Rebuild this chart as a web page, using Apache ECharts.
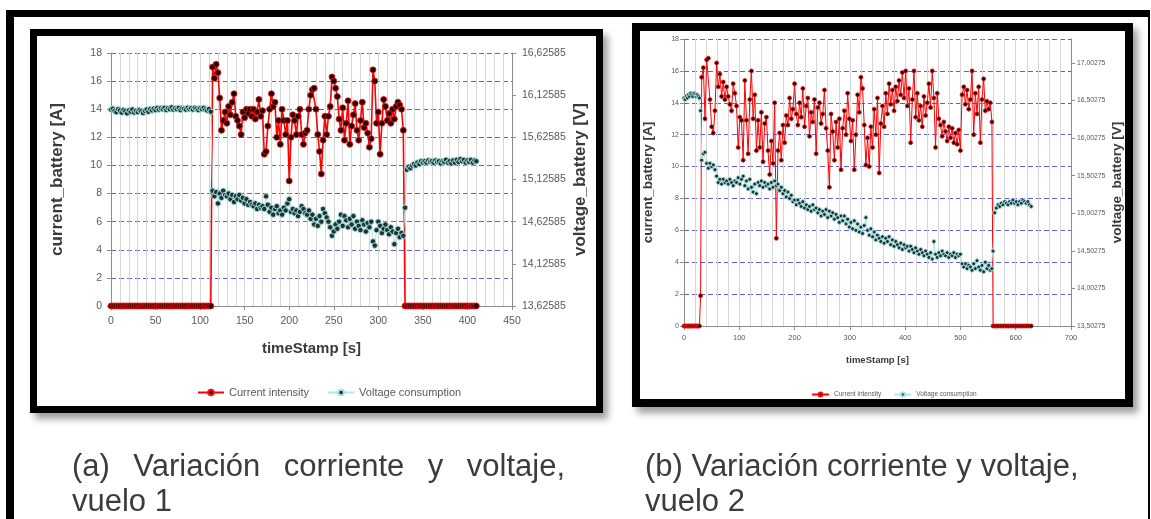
<!DOCTYPE html>
<html>
<head>
<meta charset="utf-8">
<script src="https://cdn.jsdelivr.net/npm/echarts@6/dist/echarts.min.js"></script>
<style>
html,body{margin:0;padding:0;background:#fff;}
#wrap{position:relative;width:1151px;height:519px;overflow:hidden;background:#fff;}
.outer{position:absolute;left:6px;top:10px;width:1134px;height:560px;border-left:8px solid #000;border-top:7px solid #000;border-right:2px solid #000;box-sizing:content-box;}
.frame{position:absolute;background:#fff;border:7px solid #000;box-shadow:5px 6px 7px rgba(0,0,0,0.38);}
#f1{left:30px;top:29px;width:559px;height:370px;}
#f2{left:632px;top:23px;width:485px;height:368px;border-width:8px;}
#chart{position:absolute;left:0;top:0;width:1151px;height:519px;}
.cap{position:absolute;font-family:'Liberation Sans',Arial,sans-serif;font-size:31px;line-height:31px;color:#3c3c3c;white-space:nowrap;}
.just{text-align:justify;text-align-last:justify;white-space:normal;}
</style>
</head>
<body>
<div id="wrap">
  <div class="outer"></div>
  <div class="frame" id="f1"></div>
  <div class="frame" id="f2"></div>
  <div id="chart"></div>
  <div class="cap just" style="left:72px;top:450px;width:493px;">(a) Variación corriente y voltaje,</div>
  <div class="cap" style="left:72px;top:485px;">vuelo 1</div>
  <div class="cap" style="left:645px;top:450px;">(b) Variación corriente y voltaje,</div>
  <div class="cap" style="left:645px;top:485px;">vuelo 2</div>
</div>
<script>
// ===================== (a) vuelo 1 =====================
const time1 = [
0,2,4,6,8,10,12,14,16,18,
20,22,24,26,28,30,32,34,36,38,
40,42,44,46,48,50,52,54,56,58,
60,62,64,66,68,70,72,74,76,78,
80,82,84,86,88,90,92,94,96,98,
100,102,104,106,108,110,112,
114,116,118,120,122,124,126,128,130,132,
134,136,138,140,142,144,146,148,150,152,
154,156,158,160,162,164,166,168,170,172,
174,176,178,180,182,184,186,188,190,192,
194,196,198,200,202,204,206,208,210,212,
214,216,218,220,222,224,226,228,230,232,
234,236,238,240,242,244,246,248,250,252,
254,256,258,260,262,264,266,268,270,272,
274,276,278,280,282,284,286,288,290,292,
294,296,298,300,302,304,306,308,310,312,
314,316,318,320,322,324,326,328,
330,332,334,336,338,340,342,344,346,348,
350,352,354,356,358,360,362,364,366,368,
370,372,374,376,378,380,382,384,386,388,
390,392,394,396,398,400,402,404,406,408,
410
];
const current1 = [
0,0,0,0,0,0,0,0,0,0,
0,0,0,0,0,0,0,0,0,0,
0,0,0,0,0,0,0,0,0,0,
0,0,0,0,0,0,0,0,0,0,
0,0,0,0,0,0,0,0,0,0,
0,0,0,0,0,0,0,
17.0,16.2,17.2,16.6,14.8,12.5,13.2,13.8,13.0,14.2,
13.6,14.5,15.1,13.5,13.2,12.8,12.2,13.8,13.4,14.0,
13.7,14.0,13.5,14.0,13.3,13.8,14.7,13.5,13.9,10.8,
11.0,12.8,14.0,15.1,14.2,14.5,12.0,13.2,11.5,14.0,
13.2,12.2,13.2,8.9,12.0,13.6,13.2,12.2,13.5,14.0,
12.2,11.5,12.3,12.5,14.0,15.0,15.4,15.5,14.0,12.2,
11.0,9.4,11.8,13.5,12.2,13.5,14.2,16.3,16.0,15.5,
14.9,13.3,12.5,14.1,11.8,13.0,14.6,11.5,12.8,13.6,
14.4,12.5,11.8,13.2,14.5,12.7,13.0,12.3,11.3,11.9,
16.8,16.0,13.0,13.8,10.8,13.0,14.7,14.2,13.2,13.7,
13.0,14.0,13.3,14.2,14.5,14.3,14.0,12.5,
0,0,0,0,0,0,0,0,0,0,
0,0,0,0,0,0,0,0,0,0,
0,0,0,0,0,0,0,0,0,0,
0,0,0,0,0,0,0,0,0,0,
0
];
const voltage1 = [
15.955,15.965,15.94,15.925,15.96,15.945,15.92,15.95,15.935,15.91,
15.945,15.93,15.955,15.92,15.94,15.925,15.95,15.935,15.915,15.94,
15.955,15.93,15.96,15.945,15.965,15.95,15.975,15.955,15.97,15.96,
15.975,15.95,15.97,15.96,15.98,15.955,15.97,15.96,15.975,15.95,
15.97,15.965,15.955,15.975,15.96,15.97,15.955,15.975,15.965,15.95,
15.97,15.96,15.975,15.955,15.945,15.96,15.93,
14.992,14.926,14.976,14.842,14.959,14.909,14.992,14.942,14.926,14.959,
14.892,14.942,14.859,14.926,14.892,14.942,14.876,14.909,14.842,14.892,
14.826,14.859,14.826,14.809,14.842,14.776,14.826,14.792,14.809,14.776,
14.926,14.826,14.742,14.792,14.709,14.776,14.809,14.726,14.759,14.709,
14.792,14.759,14.842,14.892,14.742,14.776,14.726,14.759,14.692,14.742,
14.809,14.776,14.726,14.709,14.759,14.659,14.709,14.592,14.659,14.576,
14.692,14.626,14.776,14.726,14.676,14.626,14.559,14.459,14.509,14.592,
14.542,14.626,14.709,14.576,14.692,14.642,14.559,14.659,14.592,14.692,
14.542,14.626,14.576,14.526,14.642,14.592,14.509,14.609,14.559,14.626,
14.392,14.342,14.526,14.626,14.576,14.492,14.542,14.592,14.526,14.476,
14.559,14.509,14.359,14.492,14.542,14.442,14.492,14.459,
14.792,15.242,15.276,15.259,15.292,15.309,15.292,15.326,15.309,15.342,
15.326,15.342,15.326,15.351,15.334,15.342,15.326,15.351,15.334,15.342,
15.317,15.342,15.334,15.359,15.326,15.342,15.317,15.351,15.326,15.359,
15.334,15.367,15.342,15.359,15.326,15.351,15.334,15.359,15.326,15.351,
15.342
];
const rightTicks1 = [13.62585,14.12585,14.62585,15.12585,15.62585,16.12585,16.62585];

// ===================== (b) vuelo 2 =====================
const time2 = [
0,2,4,6,8,10,12,14,16,18,
20,22,24,26,28,30,
32,35,38,41,44,47,50,53,56,59,
62,65,68,71,74,77,80,83,86,89,
92,95,98,101,104,107,110,113,116,119,
122,125,128,131,134,137,140,143,146,149,
152,155,158,161,164,167,170,173,176,179,
182,185,188,191,194,197,200,203,206,209,
212,215,218,221,224,227,230,233,236,239,
242,245,248,251,254,257,260,263,266,269,
272,275,278,281,284,287,290,293,296,299,
302,305,308,311,314,317,320,323,326,329,
332,335,338,341,344,347,350,353,356,359,
362,365,368,371,374,377,380,383,386,389,
392,395,398,401,404,407,410,413,416,419,
422,425,428,431,434,437,440,443,446,449,
452,455,458,461,464,467,470,473,476,479,
482,485,488,491,494,497,500,503,506,509,
512,515,518,521,524,527,530,533,536,539,
542,545,548,551,554,557,
559,562,565,568,571,574,577,580,583,586,
589,592,595,598,601,604,607,610,613,616,
619,622,625,628
];
const current2 = [
0,0,0,0,0,0,0,0,0,0,
0,0,0,0,0,1.9,
15.6,16.2,13.0,16.7,16.8,14.2,12.5,12.1,13.5,16.5,
15.0,15.8,14.4,15.3,14.2,15.0,14.4,13.9,13.5,15.2,
14.6,13.8,11.2,13.1,12.9,10.4,15.4,12.9,10.8,14.2,
16.0,13.0,14.5,11.0,12.9,11.2,13.4,10.3,12.7,13.1,
11.0,9.5,11.6,10.2,14.0,5.5,11.0,12.1,10.4,12.6,
11.5,13.2,12.6,14.3,13.0,13.6,15.2,13.3,12.6,14.0,
13.1,14.9,12.5,13.8,14.3,11.9,13.4,12.8,14.2,10.8,
13.7,14.0,12.7,13.3,14.8,12.4,11.0,8.7,13.3,12.2,
10.4,12.8,11.2,13.0,9.8,12.4,13.5,12.0,14.6,13.0,
11.6,12.9,9.8,12.0,14.5,13.4,15.6,14.9,12.6,10.1,
11.8,10.0,12.5,11.2,13.6,12.0,14.3,9.6,12.7,13.8,
12.5,14.6,13.3,15.2,13.9,14.8,13.5,15.0,14.1,15.4,
14.5,15.9,14.3,16.0,13.8,14.9,11.5,14.2,16.0,13.1,
14.6,12.9,13.8,12.5,14.4,13.2,14.0,15.2,13.7,16.0,
14.3,11.2,14.6,13.0,12.6,11.9,12.8,12.2,11.6,12.5,
11.8,12.4,11.5,12.1,11.4,12.3,11.0,14.5,15.0,13.9,
14.8,13.6,14.2,16.0,12.0,14.6,13.3,15.0,11.5,14.2,
15.5,13.5,14.1,13.6,14.0,12.8,
0,0,0,0,0,0,0,0,0,0,
0,0,0,0,0,0,0,0,0,0,
0,0,0,0
];
const voltage2 = [
16.535,16.514,16.556,16.535,16.578,16.556,16.599,16.578,16.556,16.599,
16.578,16.556,16.578,16.556,16.535,16.366,
15.708,15.793,15.814,15.666,15.602,15.666,15.623,15.645,15.581,15.496,
15.411,15.454,15.390,15.454,15.411,15.432,15.390,15.454,15.411,15.369,
15.432,15.411,15.475,15.390,15.454,15.496,15.369,15.432,15.326,15.454,
15.348,15.284,15.390,15.263,15.411,15.369,15.432,15.348,15.411,15.369,
15.390,15.326,15.411,15.348,15.432,15.369,15.390,15.305,15.348,15.263,
15.305,15.220,15.284,15.199,15.242,15.157,15.178,15.114,15.178,15.136,
15.093,15.157,15.072,15.114,15.051,15.093,15.030,15.114,15.051,15.072,
15.008,15.051,14.966,15.030,14.987,15.051,14.945,15.030,14.966,15.008,
14.924,14.987,14.945,14.881,14.966,14.902,14.966,14.860,14.924,14.818,
14.881,14.796,14.902,14.775,14.860,14.754,14.818,14.733,14.839,14.945,
14.775,14.711,14.796,14.690,14.754,14.648,14.711,14.669,14.627,14.690,
14.605,14.669,14.627,14.690,14.584,14.648,14.563,14.627,14.584,14.542,
14.605,14.521,14.584,14.542,14.563,14.499,14.563,14.521,14.478,14.542,
14.499,14.457,14.521,14.478,14.436,14.499,14.457,14.415,14.478,14.393,
14.627,14.457,14.415,14.478,14.436,14.499,14.457,14.436,14.478,14.415,
14.457,14.436,14.478,14.415,14.457,14.436,14.457,14.330,14.287,14.330,
14.266,14.309,14.287,14.245,14.330,14.266,14.372,14.287,14.245,14.309,
14.224,14.351,14.266,14.309,14.245,14.266,
14.499,15.008,15.072,15.114,15.093,15.136,15.114,15.157,15.136,15.114,
15.157,15.136,15.178,15.136,15.157,15.114,15.157,15.136,15.178,15.157,
15.136,15.157,15.114,15.093
];
const rightTicks2 = [13.50275,14.00275,14.50275,15.00275,15.50275,16.00275,16.50275,17.00275];

const seriesNames = ['Current intensity', 'Voltage consumption'];

// ---------------- build ----------------
const pairs = (xs, ys) => xs.map((x, i) => [x, ys[i]]);
const FONT = "'Liberation Sans', Arial, sans-serif";
const TICK = '#595959';
const AXIS = '#8c8c8c';
const GRIDV = '#d6d6d6';
const GRIDH = '#5f5fd4';
const comma = v => Number(v).toFixed(5).replace('.', ',');

function xAxisCfg(gi, max, interval, fs, margin, gap, nfs) {
  return {
    gridIndex: gi, type: 'value', min: 0, max: max, interval: interval,
    name: 'timeStamp [s]', nameLocation: 'middle', nameGap: gap,
    nameTextStyle: {fontFamily: FONT, fontWeight: 'bold', fontSize: nfs, color: '#3a3a3a'},
    axisLine: {show: true, onZero: false, lineStyle: {color: AXIS, width: 1}},
    axisTick: {show: true, length: 4, lineStyle: {color: AXIS}},
    axisLabel: {fontFamily: FONT, fontSize: fs, color: TICK, margin: margin},
    splitLine: {show: true, lineStyle: {color: GRIDV, width: 1}},
    minorTick: {show: false, splitNumber: 5},
    minorSplitLine: {show: true, lineStyle: {color: GRIDV, width: 1}}
  };
}
function leftAxisCfg(gi, fs, margin, gap, nfs) {
  return {
    gridIndex: gi, type: 'value', position: 'left', min: 0, max: 18, interval: 2,
    name: 'current_battery [A]', nameLocation: 'middle', nameRotate: 90, nameGap: gap,
    nameTextStyle: {fontFamily: FONT, fontWeight: 'bold', fontSize: nfs, color: '#3a3a3a'},
    axisLine: {show: true, lineStyle: {color: AXIS, width: 1}},
    axisTick: {show: true, length: 4, lineStyle: {color: AXIS}},
    axisLabel: {fontFamily: FONT, fontSize: fs, color: TICK, margin: margin},
    splitLine: {show: true, lineStyle: {color: GRIDH, width: 1.2, type: [5, 3]}}
  };
}
function rightAxisCfg(gi, min, max, ticks, fs, margin, gap, nfs) {
  return {
    gridIndex: gi, type: 'value', position: 'right', min: min, max: max,
    name: 'voltage_battery [V]', nameLocation: 'middle', nameRotate: 90, nameGap: gap,
    nameTextStyle: {fontFamily: FONT, fontWeight: 'bold', fontSize: nfs, color: '#3a3a3a'},
    axisLine: {show: true, lineStyle: {color: AXIS, width: 1}},
    axisTick: {show: true, length: 4, customValues: ticks, lineStyle: {color: AXIS}},
    axisLabel: {fontFamily: FONT, fontSize: fs, color: TICK, margin: margin,
                customValues: ticks, formatter: comma},
    splitLine: {show: false},
    splitArea: {show: false},
    minorSplitLine: {show: false}
  };
}
function currentSeries(xi, yi, data, size, lw) {
  return {
    name: seriesNames[0], type: 'line', xAxisIndex: xi, yAxisIndex: yi, data: data,
    symbol: 'circle', symbolSize: size, animation: false, z: 3,
    lineStyle: {color: '#ff0000', width: lw},
    itemStyle: {color: '#240000', borderColor: '#ff1010', borderWidth: 0.8},
    emphasis: {disabled: true}
  };
}
function voltageSeries(xi, yi, data, size) {
  return {
    name: seriesNames[1], type: 'line', xAxisIndex: xi, yAxisIndex: yi, data: data,
    symbol: 'circle', symbolSize: size, animation: false, z: 4,
    lineStyle: {color: '#b2e6e6', width: 1},
    itemStyle: {color: '#1c3434', borderColor: '#a4dcdc', borderWidth: 1},
    emphasis: {disabled: true}
  };
}

const chart = echarts.init(document.getElementById('chart'), null, {renderer: 'canvas'});
chart.setOption({
  animation: false,
  backgroundColor: 'transparent',
  grid: [
    {left: 111, top: 53, width: 401, height: 253, containLabel: false},
    {left: 684, top: 39, width: 387, height: 287, containLabel: false}
  ],
  xAxis: [
    xAxisCfg(0, 450, 50, 10.5, 10, 35, 15),
    xAxisCfg(1, 700, 100, 7.5, 8, 29, 9.5)
  ],
  yAxis: [
    leftAxisCfg(0, 10.5, 9, 45, 17),
    rightAxisCfg(0, 13.62585, 16.62585, rightTicks1, 10.5, 10, 60, 17),
    leftAxisCfg(1, 7, 5, 29, 13.5),
    rightAxisCfg(1, 13.50275, 17.32, rightTicks2, 6.8, 6, 39, 13.5)
  ],
  legend: [
    {data: seriesNames, left: 192, top: 382, itemWidth: 26, itemHeight: 7, itemGap: 18,
     selectedMode: false, textStyle: {fontFamily: FONT, fontSize: 11, color: TICK}},
    {data: seriesNames, left: 806, top: 386, itemWidth: 17, itemHeight: 5, itemGap: 12,
     selectedMode: false, textStyle: {fontFamily: FONT, fontSize: 6.5, color: TICK}}
  ],
  series: [
    currentSeries(0, 0, pairs(time1, current1), 6, 1.6),
    voltageSeries(0, 1, pairs(time1, voltage1), 5.5),
    currentSeries(1, 2, pairs(time2, current2), 4, 1),
    voltageSeries(1, 3, pairs(time2, voltage2), 4)
  ]
});
</script>
</body>
</html>
